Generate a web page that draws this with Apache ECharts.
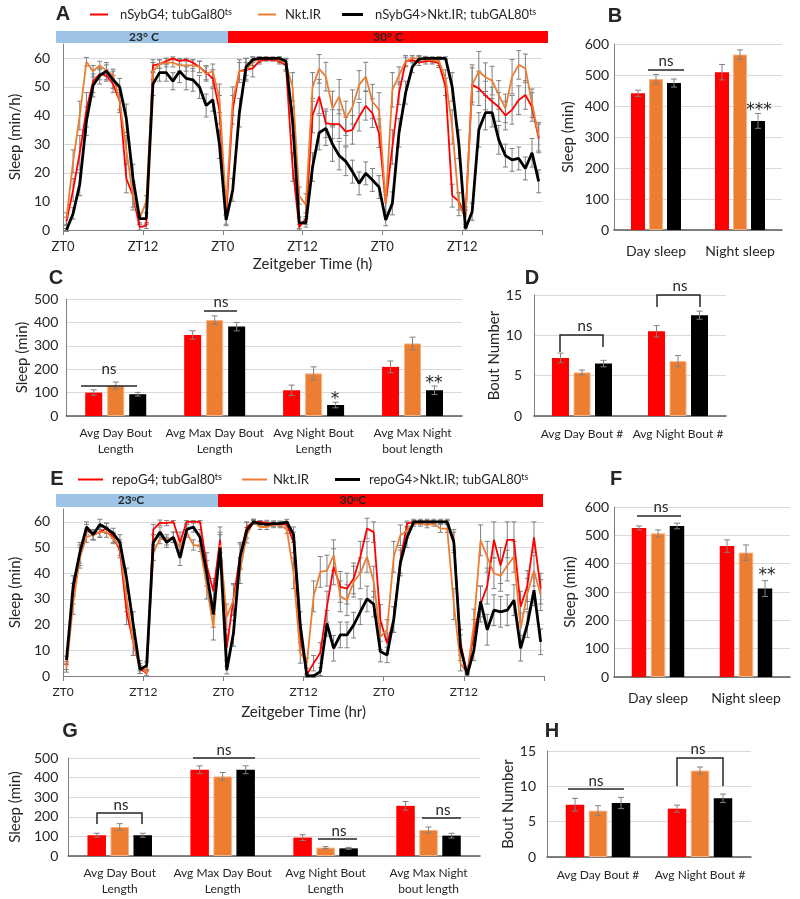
<!DOCTYPE html>
<html><head><meta charset="utf-8">
<script src="https://cdn.jsdelivr.net/npm/echarts/dist/echarts.min.js"></script>
<style>html,body{margin:0;padding:0;background:#fff}#c{width:800px;height:899px}</style>
</head><body><div id="c"></div>
<script>
// ---------------- DATA ----------------
const ztLabels = ['ZT0','ZT12','ZT0','ZT12','ZT0','ZT12'];

// Panel A (hourly, 72 h)
const aRed = [3,14,27,42,52,54.5,54,51,45,18,12,1, 1.5,57.5,58,59,60,59,59.5,58.5,57,55,53,42,
  5,42,55.5,56,56.5,59,59.5,59.5,59,57.5,22,1, 4,40,46.6,37.3,37,37,34.4,35,39.6,43.4,40.8,33.8,
  9.3,29,47.8,58.9,59.4,58.5,59,59,58.3,50,12,10, 5,50.7,49.5,47,44.9,43,40,42,45.4,47.2,43,32];
const aRedErr = [1.5,4,6,6,4,2,2,3,4,5,5,1, 1,2,1.5,1,0.5,1,0.5,1,2,2.5,3,5,
  3,5,4,4,3,1,0.5,0.5,1,2,5,1, 2,6,6,5,5,5,5,5,5,5,5,5,
  3,6,4,1.5,1,1,1,1,1.5,3,4,3, 3,6,6,5,5,5,5,5,5,5,5,5];
const aOrg = [4,24,40,58.8,55.5,57.5,55.7,54.2,45,28,12,4, 10,55.5,58,58.5,58.5,57.5,57.5,57.5,57,54.5,55.5,46,
  8,45,55.5,55.5,59,59.5,60,59.8,59.5,58,50,12, 8.7,50,56.3,53.6,42.5,46.6,39,43,50.7,53.6,44.9,42,
  9.3,49,54,59,60,60,59.7,59.4,59,53,36,9, 4,50.7,55.4,53.4,52.2,47.2,42.5,53.6,57.7,56.5,44.3,32.6];
const aOrgErr = [2,4,5,1.5,2,1.5,2,2,3,5,4,1.5, 2,3,1.5,1.5,1.5,2,2,2,2,2.5,2.5,5,
  3,5,3,3,1.5,1,0.5,0.5,1,2,5,3, 4,5,5,5,6,6,6,6,5,5,6,6,
  4,6,3,2,1,1,1,1,1.5,3,6,4, 3,7,7,5,5,5,5,6,5,5,5,5];
const aBlk = [0,5.8,16,38,50.5,54,55.5,52.5,50,39,18,4, 4,51,55,55,52,55.5,53,52.5,50,43.5,45.5,30,
  3.5,14,41,57,59.5,60,60,60,60,59,38,2.5, 2.5,22,34,35.5,30,26,24,20.4,16.3,19.8,17.5,15,
  3.5,9.3,34,48,57,59.7,60,60,60,60,50,30, 0.5,6.4,35,41,41,31.5,26,24.5,25,21.5,27,17];
const aBlkErr = [0.5,2,4,5,4,3,3,3,3,5,5,2, 2,4,3,3,3,4,4,4,4,4,4,5,
  2,4,5,3,1,0.5,0.5,0.5,0.5,1,5,2, 1.5,5,6,6,6,5,5,4,4,4,4,4,
  2,4,5,4,2,1,0.5,0.5,0.5,0.5,5,5, 0.5,3,6,6,5,5,4,4,4,4,5,4];

// Panel E (hourly, 72 h)
const eRed = [4,32,47,57,55,56,57.5,54,49,25,13,3, 1,57,59.7,59.5,60,52,60,60,60,43,33,53,
  11,30,47,58,60,60,59.6,59.3,59,59,52,15, 0.5,5,9,27,42.5,34.7,34,38,46.4,57.4,56,21.8,
  12.7,22,45,59.3,60,60,60,60,60,60,53,13, 0.5,17,28,35,53,43,53,53,27,35,54,34];
const eRedErr = [1.5,4,4,2,2,2,2,2,3,5,5,2, 1,2,1,1,0.5,4,0.5,0.5,0.5,5,5,5,
  5,6,5,2,0.5,0.5,1,1,1,1,4,5, 0.5,3,4,6,7,6,6,6,6,4,4,6,
  4,5,5,1,0.5,0.5,0.5,0.5,0.5,0.5,4,5, 0.5,5,7,7,7,7,7,7,6,6,6,6];
const eOrg = [3,28,46,54,55,56,56,53.5,50,30,13,4, 1,48,53.5,53,54,50,56,51,50.5,35,19,51,
  23,29.5,41,54.8,60,58,58,58.7,58.7,57,40,9, 5,31,40.5,41,47,31,29.5,36.7,40,46.4,36.7,15.3,
  17.9,46.4,54.8,56.7,59.3,59.3,58.7,59.3,57.4,57.4,28,5, 1,20,52.8,46.4,40,39,43,46.4,18.5,32,41,31.5];
const eOrgErr = [1.5,4,4,2,2,2,2,2,3,5,5,2, 1,3,2,2,2,3,2,2,2,5,5,5,
  5,6,5,3,1,1,1,1,1,1.5,6,4, 2,6,6,6,6,6,6,6,6,6,6,5,
  4,6,4,3,1,1,1,1,1.5,1.5,6,3, 0.5,6,6,6,6,6,6,6,6,6,6,6];
const eBlk = [6.2,35,48,58,55,59,57.5,55.5,52,38,20,2.5, 4,52,56,52,54,46,57,58,54,40,24,50,
  2.3,16.6,46.4,56.7,60,59.3,59,59.3,59.3,60,55,20, 0,0,1.7,20.5,10.8,16,16,19.8,25,30,28,9.5,
  8.2,22,44,54,60,60,60,60,60,60,52,11, 0.4,10,29,18,25.6,25,25.6,29.5,10.8,20,33.4,13.3];
const eBlkErr = [1.5,4,4,2,2,2,2,2,3,4,5,1.5, 1.5,3,2,2,2,3,2,2,3,5,5,5,
  1.5,5,5,3,1,1,1,1,1,1,3,5, 0.5,0.5,1.5,5,5,5,5,5,5,5,5,4,
  3,5,5,4,1,1,1,1,1,1,4,5, 0.5,4,6,6,6,6,6,6,5,5,6,5];

// Panel B / F
const sleepCats = ['Day sleep','Night sleep'];
const bRed = [441,509], bRedErr = [10,25];
const bOrg = [487,566], bOrgErr = [15,15];
const bBlk = [474,352], bBlkErr = [13,24];
const fRed = [526,462], fRedErr = [7,22];
const fOrg = [507,439], fOrgErr = [12,27];
const fBlk = [533,312], fBlkErr = [10,28];

// Panel C / G
const boutCats = ['Avg Day Bout\nLength','Avg Max Day Bout\nLength','Avg Night Bout\nLength','Avg Max Night\nbout length'];
const cRed = [100,346,110,210], cRedErr = [12,18,22,25];
const cOrg = [130,410,182,310], cOrgErr = [15,18,28,27];
const cBlk = [93,382,47,110],  cBlkErr = [8,18,12,18];
const gRed = [106,440,94,256], gRedErr = [10,20,15,22];
const gOrg = [148,406,43,133], gOrgErr = [17,20,5,15];
const gBlk = [106,440,39,104], gBlkErr = [10,20,5,12];

// Panel D / H
const numCats = ['Avg Day Bout #','Avg Night Bout #'];
const dRed = [7.2,10.5], dRedErr = [0.6,0.7];
const dOrg = [5.4,6.8],  dOrgErr = [0.3,0.7];
const dBlk = [6.5,12.5], dBlkErr = [0.4,0.5];
const hRed = [7.4,6.84], hRedErr = [0.9,0.5];
const hOrg = [6.56,12.23], hOrgErr = [0.7,0.5];
const hBlk = [7.64,8.3], hBlkErr = [0.8,0.6];

const legendText = {
  A1:['nSybG4; tubGal80','ts'], A2:['Nkt.IR',''], A3:['nSybG4>Nkt.IR; tubGAL80','ts'],
  E1:['repoG4; tubGal80','ts'], E2:['Nkt.IR',''], E3:['repoG4>Nkt.IR; tubGAL80','ts']
};

// ---------------- STYLE ----------------
const FONT = 'Lato, "Open Sans", sans-serif';
const TXT = '#262626';
const RED = '#ff0000', ORG = '#ed7d31', BLK = '#000000', ERRC = '#808080';
const AXC = '#808080', GRIDC = '#d9d9d9';

const grids = [], xAxes = [], yAxes = [], series = [], gfx = [];

function errRender(cap, offset) {
  return function (params, api) {
    const x = api.value(0), v = api.value(1), e = api.value(2);
    const p1 = api.coord([x, v + e]), p2 = api.coord([x, v - e]);
    const cx = p1[0] + offset;
    const st = {stroke: ERRC, lineWidth: 1};
    return {type: 'group', children: [
      {type: 'line', shape: {x1: cx, y1: p1[1], x2: cx, y2: p2[1]}, style: st},
      {type: 'line', shape: {x1: cx - cap, y1: p1[1], x2: cx + cap, y2: p1[1]}, style: st},
      {type: 'line', shape: {x1: cx - cap, y1: p2[1], x2: cx + cap, y2: p2[1]}, style: st}
    ]};
  };
}

function addLinePanel(rect, yName, yNameGap, xName, xNameGap, xPad, xFont, sets) {
  const gi = grids.length;
  grids.push({left: rect[0], top: rect[1], width: rect[2], height: rect[3]});
  xAxes.push({gridIndex: gi, type: 'value', min: 0, max: 72, interval: 12,
    axisLine: {show: true, onZero: false, lineStyle: {color: AXC}},
    axisTick: {show: true, length: 5, lineStyle: {color: AXC}},
    axisLabel: {margin: 10, color: TXT, fontFamily: FONT, fontSize: xFont,
      formatter: v => ztLabels[v / 12] || ''},
    splitLine: {show: false},
    name: xName, nameLocation: 'middle', nameGap: xNameGap,
    nameTextStyle: {fontFamily: FONT, fontSize: 15, color: TXT, padding: [0, 0, 0, xPad]}});
  yAxes.push({gridIndex: gi, type: 'value', min: 0, max: 65, interval: 10,
    axisLine: {show: true, lineStyle: {color: AXC}}, axisTick: {show: false},
    axisLabel: {margin: 13, color: TXT, fontFamily: FONT, fontSize: 14,
      formatter: v => (v % 10 === 0 ? String(v) : '')},
    splitLine: {show: true, lineStyle: {color: [GRIDC, GRIDC, GRIDC, GRIDC, GRIDC, GRIDC, GRIDC, 'rgba(0,0,0,0)']}},
    name: yName, nameLocation: 'middle', nameRotate: 90, nameGap: yNameGap,
    nameTextStyle: {fontFamily: FONT, fontSize: 15, color: TXT}});
  sets.forEach(s => series.push({type: 'custom', xAxisIndex: gi, yAxisIndex: gi, z: 2, silent: true,
    data: s.v.map((v, i) => [i + 0.5, v, s.e[i]]), renderItem: errRender(2.5, 0)}));
  sets.forEach(s => series.push({type: 'line', id: s.id, name: s.id, xAxisIndex: gi, yAxisIndex: gi, z: 3,
    symbol: 'none', data: s.v.map((v, i) => [i + 0.5, v]),
    lineStyle: {color: s.c, width: s.w}, itemStyle: {color: s.c}}));
}

function addBarPanel(rect, cats, yMax, yInt, yName, yNameGap, yLabMargin, catMargin, catFont, bw, gap, sets) {
  const gi = grids.length;
  grids.push({left: rect[0], top: rect[1], width: rect[2], height: rect[3]});
  xAxes.push({gridIndex: gi, type: 'category', data: cats,
    axisLine: {show: true, lineStyle: {color: '#595959', width: 1.5}},
    axisTick: {show: false},
    axisLabel: {margin: catMargin, color: TXT, fontFamily: FONT, fontSize: catFont, lineHeight: catFont + 4, interval: 0}});
  yAxes.push({gridIndex: gi, type: 'value', min: 0, max: yMax, interval: yInt,
    axisLine: {show: true, lineStyle: {color: AXC}}, axisTick: {show: false},
    axisLabel: {margin: yLabMargin, color: TXT, fontFamily: FONT, fontSize: 14},
    splitLine: {show: true, lineStyle: {color: GRIDC}},
    name: yName, nameLocation: 'middle', nameRotate: 90, nameGap: yNameGap,
    nameTextStyle: {fontFamily: FONT, fontSize: 15, color: TXT}});
  const pct = (gap / bw * 100).toFixed(1) + '%';
  sets.forEach((s, k) => series.push({type: 'bar', xAxisIndex: gi, yAxisIndex: gi, z: 2,
    data: s.v, barWidth: bw, barGap: pct,
    itemStyle: {color: s.c, borderColor: s.b || s.c, borderWidth: s.b ? 1 : 0}}));
  sets.forEach((s, k) => series.push({type: 'custom', xAxisIndex: gi, yAxisIndex: gi, z: 3, silent: true,
    data: s.v.map((v, i) => [i, v, s.e[i]]), renderItem: errRender(3, (k - 1) * (bw + gap))}));
}

// ---------------- PANELS ----------------
addLinePanel([55, 44, 487, 186], 'Sleep (min/h)', 35, 'Zeitgeber Time (h)', 27, 20, 13, [
  {id: 'A1', v: aRed, e: aRedErr, c: RED, w: 1.8},
  {id: 'A2', v: aOrg, e: aOrgErr, c: ORG, w: 1.8},
  {id: 'A3', v: aBlk, e: aBlkErr, c: BLK, w: 2.8}]);
addBarPanel([614, 44, 168, 186], sleepCats, 600, 100, 'Sleep (min)', 38, 5, 12, 14, 14, 4, [
  {v: bRed, e: bRedErr, c: RED}, {v: bOrg, e: bOrgErr, c: ORG, b: '#f4b183'}, {v: bBlk, e: bBlkErr, c: BLK}]);
addBarPanel([54, 299, 408, 117], boutCats, 500, 100, 'Sleep (min)', 36, 8, 9, 12, 17, 5, [
  {v: cRed, e: cRedErr, c: RED}, {v: cOrg, e: cOrgErr, c: ORG, b: '#f4b183'}, {v: cBlk, e: cBlkErr, c: BLK}]);
addBarPanel([534, 295, 192, 121], numCats, 15, 5, 'Bout Number', 32, 12, 10, 12, 17, 4.5, [
  {v: dRed, e: dRedErr, c: RED}, {v: dOrg, e: dOrgErr, c: ORG, b: '#f4b183'}, {v: dBlk, e: dBlkErr, c: BLK}]);
addLinePanel([54, 509, 490, 167], 'Sleep (min)', 28, 'Zeitgeber Time (hr)', 29, 0, 12, [
  {id: 'E1', v: eRed, e: eRedErr, c: RED, w: 1.8},
  {id: 'E2', v: eOrg, e: eOrgErr, c: ORG, w: 1.8},
  {id: 'E3', v: eBlk, e: eBlkErr, c: BLK, w: 2.8}]);
addBarPanel([614, 507, 176, 170], sleepCats, 600, 100, 'Sleep (min)', 36, 5, 12, 14, 14.5, 4.5, [
  {v: fRed, e: fRedErr, c: RED}, {v: fOrg, e: fOrgErr, c: ORG, b: '#f4b183'}, {v: fBlk, e: fBlkErr, c: BLK}]);
addBarPanel([64, 758, 416, 98], boutCats, 500, 100, 'Sleep (min)', 36, 10, 9, 12, 18.5, 4.5, [
  {v: gRed, e: gRedErr, c: RED}, {v: gOrg, e: gOrgErr, c: ORG, b: '#f4b183'}, {v: gBlk, e: gBlkErr, c: BLK}]);
addBarPanel([547, 751, 204, 106], numCats, 15, 5, 'Bout Number', 31, 11, 10, 12, 18.5, 4.5, [
  {v: hRed, e: hRedErr, c: RED}, {v: hOrg, e: hOrgErr, c: ORG, b: '#f4b183'}, {v: hBlk, e: hBlkErr, c: BLK}]);

// ---------------- GRAPHICS (annotations) ----------------
function txt(x, y, text, font, extra) {
  gfx.push({type: 'text', x: x, y: y, z: 10, silent: true,
    style: Object.assign({text: text, font: font, fill: TXT, align: 'center', verticalAlign: 'middle'}, extra || {})});
}
function rect(x, y, w, h, color) {
  gfx.push({type: 'rect', z: 1, silent: true, shape: {x: x, y: y, width: w, height: h}, style: {fill: color}});
}
function poly(points) {
  gfx.push({type: 'polyline', z: 10, silent: true, shape: {points: points}, style: {stroke: TXT, lineWidth: 1.5, fill: 'none'}});
}
const LETTER = 'bold 20px "Liberation Sans", Arial, sans-serif';
const NS = '15px ' + FONT;
const AST = '17px "DejaVu Sans", sans-serif';
const TEMP = 'bold 12px ' + FONT;

// Letters
txt(63, 14, 'A', LETTER); txt(615, 16, 'B', LETTER);
txt(56, 278, 'C', LETTER); txt(532, 278, 'D', LETTER);
txt(57, 479, 'E', LETTER); txt(616, 479, 'F', LETTER);
txt(70, 731, 'G', LETTER); txt(552, 731, 'H', LETTER);

// Temperature bars
rect(56, 31, 172, 12, '#9dc3e6'); rect(228, 31, 320, 12, RED);
txt(144, 37.5, '23° C', TEMP); txt(388, 37.5, '30° C', TEMP);
rect(56, 494, 162, 13, '#9dc3e6'); rect(218, 494, 325, 13, RED);
const tempRich = {t: {font: TEMP, fill: TXT}, s: {font: 'bold 8px ' + FONT, fill: TXT, verticalAlign: 'top'}};
txt(131, 500.5, '{t|23}{s|o}{t|C}', TEMP, {rich: tempRich});
txt(353, 500.5, '{t|30}{s|o}{t|C}', TEMP, {rich: tempRich});

// B
poly([[648, 70], [684, 70]]); txt(666, 61, 'ns', NS); txt(759, 111, '***', AST);
// C
poly([[81, 386], [137, 386]]); txt(109, 369, 'ns', NS);
poly([[204, 311], [237, 311]]); txt(221, 302, 'ns', NS);
txt(335, 400, '*', AST); txt(434, 384, '**', AST);
// D
poly([[560, 352], [560, 335], [603, 335], [603, 347]]); txt(585, 326, 'ns', NS);
poly([[657, 307], [657, 295], [700, 295], [700, 307]]); txt(680, 286, 'ns', NS);
// F
poly([[637, 516], [681, 516]]); txt(661, 507, 'ns', NS); txt(767, 576, '**', AST);
// G
poly([[97, 824], [97, 813], [142, 813], [142, 824]]); txt(121, 805, 'ns', NS);
poly([[193, 758], [255, 758]]); txt(224, 750, 'ns', NS);
poly([[318, 839], [357, 839]]); txt(339, 831, 'ns', NS);
poly([[422, 818], [461, 818]]); txt(443, 810, 'ns', NS);
// H
poly([[568, 789], [624, 789]]); txt(596, 781, 'ns', NS);
poly([[677, 786], [677, 758], [723, 758], [723, 786]]); txt(698, 749, 'ns', NS);

// ---------------- LEGENDS ----------------
function mkLegend(id, left, top, w, h, pad) {
  return {left: left, top: top, itemWidth: w, itemHeight: h, icon: 'rect', data: [id],
    selectedMode: false, padding: 0, itemGap: 0,
    formatter: n => '{a|' + legendText[n][0] + '}' + (legendText[n][1] ? '{s|' + legendText[n][1] + '}' : ''),
    textStyle: {padding: [0, 0, 0, pad], fontFamily: FONT, fontSize: 13, color: TXT,
      rich: {a: {fontFamily: FONT, fontSize: 13, color: TXT},
             s: {fontFamily: FONT, fontSize: 9, color: TXT, verticalAlign: 'top'}}}};
}
const legends = [
  mkLegend('A1', 90, 8, 18, 2, 7), mkLegend('A2', 258, 8, 18, 2, 4), mkLegend('A3', 342, 8, 21, 3, 7),
  mkLegend('E1', 78, 473, 25, 2, 4), mkLegend('E2', 242, 473, 25, 2, 1), mkLegend('E3', 335, 473, 25, 3, 4)
];

const chart = echarts.init(document.getElementById('c'), null, {renderer: 'canvas'});
chart.setOption({
  animation: false,
  backgroundColor: '#ffffff',
  textStyle: {fontFamily: FONT},
  grid: grids, xAxis: xAxes, yAxis: yAxes, series: series,
  legend: legends, graphic: gfx
});
</script></body></html>
